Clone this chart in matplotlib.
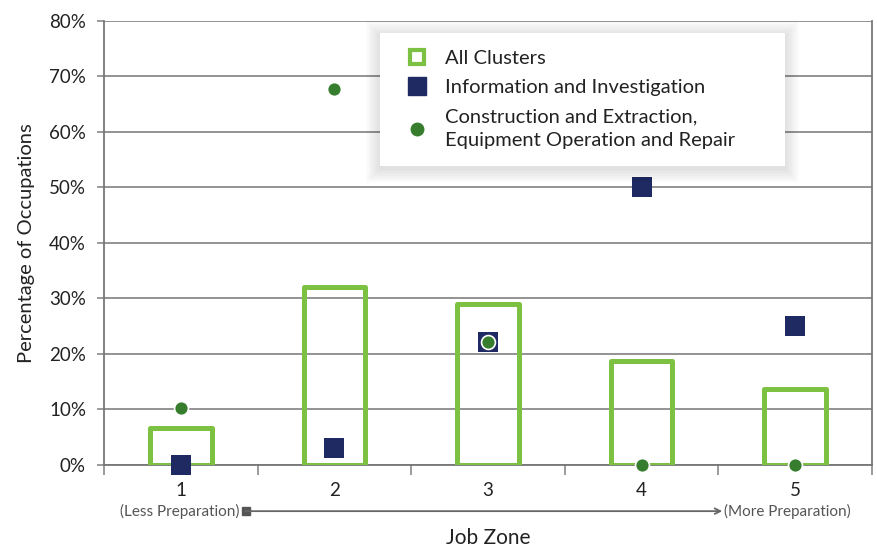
import numpy as np
import matplotlib.pyplot as plt
from matplotlib.lines import Line2D
from matplotlib.patches import Rectangle
from matplotlib.ticker import FixedLocator, PercentFormatter

plt.rcParams['font.family'] = ['Lato', 'DejaVu Sans']

# data (percent of occupations per job zone)
zones = [1, 2, 3, 4, 5]
zone_labels = ['1', '2', '3', '4', '5']
all_clusters = [6.7, 32.0, 29.0, 18.8, 13.7]
info_investigation = [0.0, 3.1, 22.2, 50.0, 25.0]
construction = [10.3, 67.7, 22.2, 0.0, 0.0]

light_green = '#7dc142'
navy = '#1f2a63'
dark_green = '#367d2e'
grid_grey = '#8a8a8a'

fig = plt.figure(figsize=(8.77, 5.48), dpi=100)
ax = fig.add_axes([0.1186, 0.1515, 0.8757, 0.8102])

# hollow bars for All Clusters
ax.bar(zones, all_clusters, width=0.40, facecolor='none', edgecolor=light_green,
       linewidth=3.6, joinstyle='round', zorder=3)

# Information and Investigation squares
ax.plot(zones, info_investigation, linestyle='none', marker='s', markersize=14,
        color=navy, markeredgewidth=0, zorder=4, clip_on=False)

# Construction and Extraction circles
ax.plot(zones, construction, linestyle='none', marker='o', markersize=10,
        markerfacecolor=dark_green, markeredgecolor='white', markeredgewidth=1.2,
        zorder=5, clip_on=False)

ax.set_xlim(0.5, 5.5)
ax.set_ylim(0, 80)
ax.set_yticks(np.arange(0, 81, 10))
ax.yaxis.set_major_formatter(PercentFormatter(decimals=0))
ax.yaxis.grid(True, color=grid_grey, linewidth=1.3, zorder=0)
ax.set_axisbelow(True)

ax.set_xticks(zones)
ax.set_xticklabels(zone_labels)
ax.xaxis.set_minor_locator(FixedLocator(np.arange(0.5, 5.6, 1.0)))
ax.tick_params(axis='x', which='major', length=0, pad=12, labelsize=13.5,
               labelcolor='#222222')
ax.tick_params(axis='x', which='minor', length=7, width=1.2, color=grid_grey,
               direction='out')
ax.tick_params(axis='y', length=5, width=1.2, color=grid_grey, pad=8,
               labelsize=13.5, labelcolor='#222222')

for side in ['left', 'right', 'bottom']:
    ax.spines[side].set_color('#777777')
    ax.spines[side].set_linewidth(1.3)
ax.spines['top'].set_visible(False)

ax.set_ylabel('Percentage of Occupations', fontsize=14.5, color='#222222',
              labelpad=10)
ax.set_xlabel('Job Zone', fontsize=15, color='#222222', labelpad=21)

# preparation arrow under the axis
trans = ax.get_xaxis_transform()
ax.text(1.385, -0.104, '(Less Preparation)', transform=trans, ha='right',
        va='center', fontsize=11, color='#555555')
ax.text(4.535, -0.104, '(More Preparation)', transform=trans, ha='left',
        va='center', fontsize=11, color='#555555')
ax.annotate('', xy=(4.525, -0.104), xytext=(1.42, -0.104), xycoords=trans,
            textcoords=trans,
            arrowprops=dict(arrowstyle='->', color='#666666', lw=1.3,
                            shrinkA=0, shrinkB=0), annotation_clip=False)
ax.plot([1.424], [-0.104], marker='s', markersize=6, color='#555555',
        transform=trans, clip_on=False)

# legend
handles = [
    Line2D([], [], linestyle='none', marker='s', markersize=10,
           markerfacecolor='white', markeredgecolor=light_green,
           markeredgewidth=3),
    Line2D([], [], linestyle='none', marker='s', markersize=13, color=navy),
    Line2D([], [], linestyle='none', marker='o', markersize=9, color=dark_green),
]
labels = ['All Clusters', 'Information and Investigation',
          'Construction and Extraction,\nEquipment Operation and Repair']
leg = ax.legend(handles, labels, loc='upper left',
                bbox_to_anchor=(0.359, 0.664, 0.528, 0.309), mode='expand',
                frameon=True, fancybox=False, framealpha=1, edgecolor='none',
                facecolor='white', fontsize=14.5, labelspacing=0.6,
                handlelength=2.0, handletextpad=0.4, borderpad=0.85,
                borderaxespad=0, labelcolor='#222222')
leg.get_texts()[2].set_linespacing(1.45)
leg.set_zorder(10)

# soft shadow behind the legend box
fig.canvas.draw()
bb = leg.get_window_extent().transformed(ax.transAxes.inverted())
px = 1.0 / np.array(ax.get_window_extent().size)
for d in np.linspace(14, 1, 10):
    ax.add_patch(Rectangle((bb.x0 - d * px[0], bb.y0 - (d + 3) * px[1]),
                           bb.width + 2 * d * px[0], bb.height + (2 * d + 1) * px[1],
                           transform=ax.transAxes, facecolor='black',
                           edgecolor='none', alpha=0.012, zorder=9,
                           clip_on=False))

fig.savefig('out.png', dpi=100)
